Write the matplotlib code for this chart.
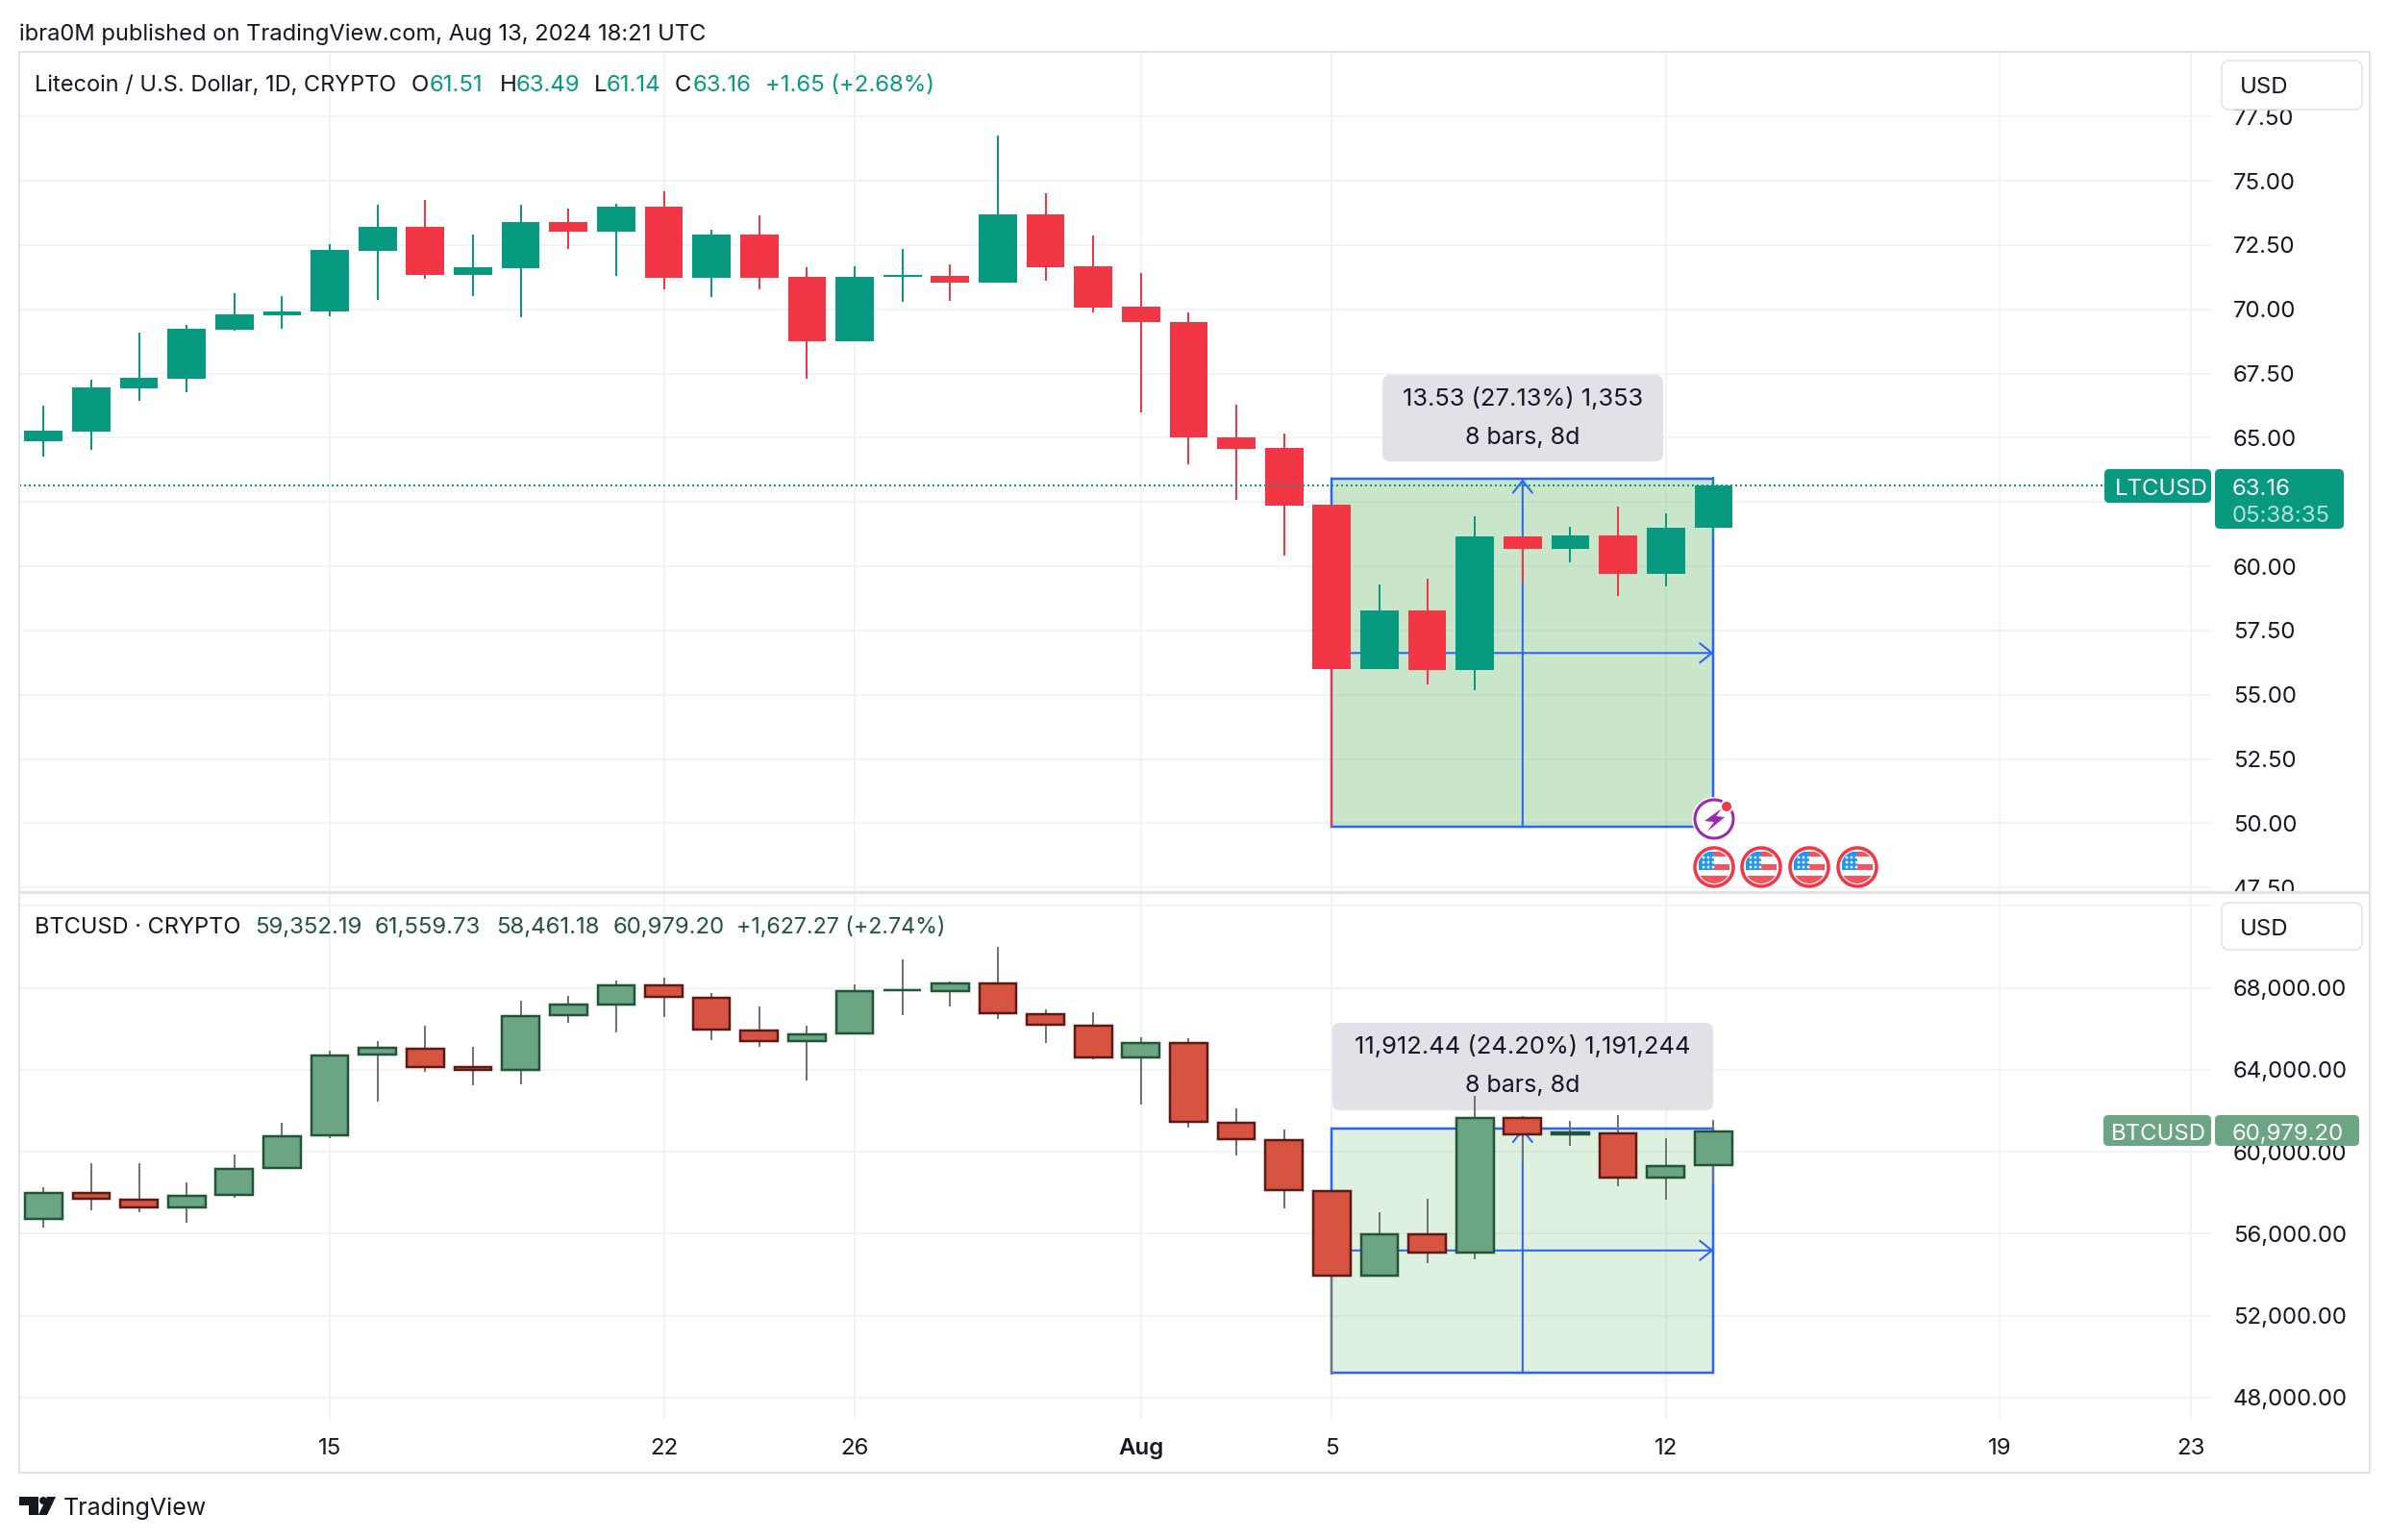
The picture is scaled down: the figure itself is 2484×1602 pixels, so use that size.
import numpy as np
import matplotlib
matplotlib.use('Agg')
import matplotlib.pyplot as plt
from matplotlib.patches import Circle, FancyBboxPatch, Polygon, Rectangle
from matplotlib.transforms import Affine2D

plt.rcParams['font.family'] = ['Inter', 'DejaVu Sans']

W, H = 2484, 1602

# daily bars, Jul 9 -> Aug 13 2024
ltc_open = [64.87, 65.24, 66.92, 67.30, 69.20, 69.77, 69.92, 72.27, 73.21, 71.34, 71.60, 73.39,
            73.02, 73.99, 71.22, 72.91, 71.26, 68.76, 71.26, 71.30, 71.04, 73.69, 71.67, 70.10,
            69.50, 65.00, 64.61, 62.40, 56.01, 58.27, 55.96, 61.15, 60.68, 61.20, 59.72, 61.51]
ltc_high = [66.25, 67.26, 69.09, 69.39, 70.63, 70.51, 72.53, 74.07, 74.25, 72.91, 74.07, 73.92,
            74.10, 74.59, 73.09, 73.65, 71.63, 71.67, 72.35, 71.75, 76.76, 74.51, 72.87, 71.41,
            69.87, 66.30, 65.17, 62.40, 59.29, 59.50, 61.94, 61.15, 61.54, 62.31, 62.06, 63.49]
ltc_low = [64.27, 64.53, 66.44, 66.77, 69.17, 69.24, 69.73, 70.36, 71.19, 70.51, 69.69, 72.35,
           71.30, 70.78, 70.48, 70.78, 67.30, 68.76, 70.29, 70.33, 71.04, 71.11, 69.88, 65.99,
           63.95, 62.60, 60.42, 49.86, 56.01, 55.40, 55.18, 59.38, 60.16, 58.84, 59.23, 61.14]
ltc_close = [65.28, 66.96, 67.34, 69.24, 69.80, 69.92, 72.31, 73.21, 71.34, 71.63, 73.39, 73.02,
             73.99, 71.22, 72.91, 71.22, 68.76, 71.26, 71.34, 71.04, 73.69, 71.63, 70.06, 69.50,
             65.00, 64.55, 62.36, 56.01, 58.27, 55.96, 61.15, 60.68, 61.20, 59.72, 61.50, 63.16]

btc_open = [56713, 58000, 57658, 57296, 57880, 59207, 60797, 64741, 65042, 64117, 63976, 66652,
            67175, 68141, 67517, 65928, 65405, 65767, 67879, 67859, 68241, 66732, 66169, 64600,
            65324, 61421, 60574, 58080, 53948, 55975, 55098, 61666, 60867, 60906, 58742, 59352.19]
btc_high = [58262, 59449, 59449, 58503, 59872, 61421, 64942, 65405, 66149, 65123, 67376, 67618,
            68342, 68503, 67759, 67095, 66149, 68161, 69388, 68302, 70012, 66974, 66813, 65586,
            65545, 62125, 61081, 58119, 57047, 57709, 62738, 61724, 61510, 61783, 60672, 61559.73]
btc_low = [56290, 57135, 57055, 56532, 57759, 59207, 60656, 62447, 63896, 63252, 63292, 66290,
           65827, 66571, 65445, 65123, 63473, 65767, 66672, 67095, 66491, 65304, 64519, 62306,
           61179, 59831, 57242, 49114, 53948, 54552, 54747, 59580, 60282, 58313, 57670, 58461.18]
btc_close = [58000, 57699, 57296, 57860, 59167, 60757, 64700, 65062, 64137, 63976, 66632, 67175,
             68141, 67557, 65968, 65405, 65747, 67859, 67899, 68241, 66753, 66189, 64600, 65324,
             61461, 60616, 58119, 53948, 55975, 55098, 61666, 60847, 60925, 58742, 59307, 60979.20]

ltc_ticks = [47.5, 50, 52.5, 55, 57.5, 60, 62.5, 65, 67.5, 70, 72.5, 75, 77.5]
ltc_ticklabels = ['47.50', '50.00', '52.50', '55.00', '57.50', '60.00', '', '65.00', '67.50',
                  '70.00', '72.50', '75.00', '77.50']
btc_ticks = [48000, 52000, 56000, 60000, 64000, 68000, 72000]
btc_ticklabels = ['48,000.00', '52,000.00', '56,000.00', '60,000.00', '64,000.00', '68,000.00', '']
day_ticks = [6, 13, 17, 23, 27, 34, 41, 45]
day_labels = ['15', '22', '26', 'Aug', '5', '12', '19', '23']

ltc_measure = (27, 35, 49.86, 63.39)
btc_measure = (27, 35, 49225, 61137)

TEXT = '#131722'
GRID = '#f2f3f6'
BORDER = '#e0e3eb'
BLUE = '#2962ff'
GREEN = '#089981'
RED = '#f23645'
BTC_UP = '#6ba583'
BTC_DOWN = '#d75442'
BTC_UP_EDGE = '#225437'
BTC_DOWN_EDGE = '#5b1a13'
BTC_WICK = '#737375'

px = Affine2D().scale(1, -1).translate(0, H)  # image pixels, y going down

fig = plt.figure(figsize=(W / 100, H / 100), dpi=100, facecolor='white')


def pt(pixels):
    return pixels * 0.72


def pane(left, top, right, bottom, ylim):
    ax = fig.add_axes([left / W, 1 - bottom / H, (right - left) / W, (bottom - top) / H])
    ax.set_xlim(-0.51, 45.43)
    ax.set_ylim(*ylim)
    for s in ax.spines.values():
        s.set_visible(False)
    ax.set_axisbelow(True)
    ax.grid(True, color=GRID, lw=pt(2))
    ax.set_xticks(day_ticks)
    ax.yaxis.tick_right()
    ax.tick_params(length=0, labelsize=pt(24), colors=TEXT)
    ax.tick_params(axis='y', pad=pt(23))
    return ax


def candles(ax, o, h, l, c, up, down, edge_up=None, edge_down=None, wick_up=None, wick_down=None, lw=0, width=0.8):
    o, h, l, c = map(np.array, (o, h, l, c))
    days = np.arange(len(o))
    rising = c >= o
    ax.vlines(days, l, h, colors=[(wick_up or up) if r else (wick_down or down) for r in rising],
              lw=pt(2), zorder=3)
    ax.bar(days, np.abs(c - o), bottom=np.minimum(o, c), width=width,
           color=[up if r else down for r in rising],
           edgecolor=[(edge_up or up) if r else (edge_down or down) for r in rising],
           linewidth=lw, zorder=4)


def measure(ax, x0, x1, y0, y1, alpha):
    ax.add_patch(Rectangle((x0, y0), x1 - x0, y1 - y0, facecolor='#4caf50', alpha=alpha, lw=0, zorder=1.5))
    ax.add_patch(Rectangle((x0, y0), x1 - x0, y1 - y0, fill=False, edgecolor=BLUE, lw=pt(2.5), zorder=2))
    xm, ym = (x0 + x1) / 2, (y0 + y1) / 2
    style = dict(arrowstyle='->,head_length=1.0,head_width=0.8', color=BLUE, lw=pt(2),
                 shrinkA=0, shrinkB=0, mutation_scale=9)
    ax.annotate('', xy=(xm, y1), xytext=(xm, y0), arrowprops=style, zorder=2)
    ax.annotate('', xy=(x1, ym), xytext=(x0, ym), arrowprops=style, zorder=2)


def label(x, y, s, color=TEXT, size=24, ha='left', weight='normal', alpha=1):
    fig.text(x, y + 4, s, transform=px, color=color, fontsize=pt(size), ha=ha, va='center',
             fontweight=weight, alpha=alpha, zorder=8)


def box(x0, y0, x1, y1, color, edge='none', radius=5, zorder=6, target=None, alpha=1):
    b = FancyBboxPatch((x0, y0), x1 - x0, y1 - y0, boxstyle='round,pad=0,rounding_size=%d' % radius,
                       facecolor=color, edgecolor=edge, lw=pt(1.5), transform=px, zorder=zorder, alpha=alpha)
    if target is None:
        fig.add_artist(b)
    else:
        b.set_clip_on(False)
        target.add_patch(b)
        b.set_transform(px)


def flag(cx, cy):
    fig.add_artist(Circle((cx, cy), 23, facecolor='white', edgecolor='none', transform=px, zorder=6))
    fig.add_artist(Circle((cx, cy), 20, facecolor='white', edgecolor=RED, lw=pt(3.5), transform=px, zorder=6.1))
    inner = Circle((cx, cy), 17, transform=px)
    parts = [((cx, cy - 16), 16, 5, '#f7525f'), ((cx, cy - 3), 16, 6, '#f7525f'),
             ((cx - 16, cy + 9), 32, 9, '#f7525f'), ((cx - 16, cy - 16), 16, 19, '#2196f3')]
    for xy, w, h, col in parts:
        r = Rectangle(xy, w, h, facecolor=col, edgecolor='none', transform=px, zorder=6.2)
        r.set_clip_path(inner)
        fig.add_artist(r)
    for dy in (-10, -5, 0):
        for dx in (-11, -6, -1):
            fig.add_artist(Circle((cx + dx, cy + dy), 1.4, facecolor='white', edgecolor='none', transform=px, zorder=6.3))


# panes
ax1 = pane(20, 55, 2300, 928, (47.32, 79.98))
ax2 = pane(20, 930, 2300, 1476, (46957, 72586))

ax1.set_yticks(ltc_ticks, ltc_ticklabels)
ax1.set_xticklabels([])
ax2.set_yticks(btc_ticks, btc_ticklabels)
ax2.set_xticks(day_ticks, day_labels)
ax2.tick_params(axis='x', pad=pt(20))
for t in ax2.get_xticklabels():
    if t.get_text() == 'Aug':
        t.set_fontweight('semibold')

measure(ax1, *ltc_measure, alpha=0.3)
measure(ax2, *btc_measure, alpha=0.18)
box(1438, 390, 1730, 480, '#dfe1e6', target=ax1, zorder=2.5, radius=8, alpha=0.95)
box(1386, 1064, 1782, 1155, '#dfe1e6', target=ax2, zorder=2.5, radius=8, alpha=0.95)

candles(ax1, ltc_open, ltc_high, ltc_low, ltc_close, GREEN, RED)
candles(ax2, btc_open, btc_high, btc_low, btc_close, BTC_UP, BTC_DOWN, BTC_UP_EDGE, BTC_DOWN_EDGE,
        BTC_WICK, BTC_WICK, lw=pt(2.5), width=0.78)
ax1.axhline(ltc_close[-1], color=GREEN, lw=pt(2), ls=(0, (1, 1.5)), zorder=5)

label(1584, 411, '13.53 (27.13%) 1,353', ha='center', size=25.5)
label(1584, 451, '8 bars, 8d', ha='center', size=25)
label(1584, 1085, '11,912.44 (24.20%) 1,191,244', ha='center', size=25.5)
label(1584, 1126, '8 bars, 8d', ha='center', size=25)

# frame and pane divider
fig.add_artist(Rectangle((20, 54), 2445, 1478, fill=False, edgecolor=BORDER, lw=pt(2), transform=px, zorder=5))
fig.add_artist(Rectangle((2301, 928), 163, 10, facecolor='white', edgecolor='none', transform=px, zorder=5))
fig.add_artist(Rectangle((20, 927), 2445, 3, facecolor=BORDER, edgecolor='none', transform=px, zorder=5.5))

# header + legends
label(20, 32, 'ibra0M published on TradingView.com, Aug 13, 2024 18:21 UTC', size=23.7)
label(36, 85, 'Litecoin / U.S. Dollar, 1D, CRYPTO', size=23.5)
for x, s, col in [(428, 'O', TEXT), (447, '61.51', GREEN), (520, 'H', TEXT), (537, '63.49', GREEN),
                  (618, 'L', TEXT), (631, '61.14', GREEN), (702, 'C', TEXT), (721, '63.16', GREEN),
                  (796, '+1.65 (+2.68%)', GREEN)]:
    label(x, 85, s, col)
label(36, 961, 'BTCUSD · CRYPTO', size=23.6)
for x, s, size in [(265, '59,352.19', 24), (390, '61,559.73', 24), (516, '58,461.18', 24), (638, '60,979.20', 24),
                   (766, '+1,627.27 (+2.74%)', 23.2)]:
    label(x, 961, s, BTC_UP_EDGE, size=size)

# USD buttons
for y0, y1, yt in [(63, 114, 87), (939, 988, 963)]:
    box(2311, y0, 2457, y1, 'white', edge=BORDER, radius=8)
    label(2330, yt, 'USD')

# price tags
box(2189, 488, 2300, 523, GREEN)
box(2304, 488, 2438, 550, GREEN)
label(2200, 505, 'LTCUSD', 'white')
label(2322, 505, '63.16', 'white')
label(2322, 533, '05:38:35', 'white', alpha=0.7)
box(2188, 1160, 2300, 1192, BTC_UP)
box(2304, 1160, 2454, 1192, BTC_UP)
label(2196, 1176, 'BTCUSD', 'white')
label(2322, 1176, '60,979.20', 'white')

# event icons
fig.add_artist(Circle((1783, 852), 23, facecolor='white', edgecolor='none', transform=px, zorder=6))
fig.add_artist(Circle((1783, 852), 20, facecolor='white', edgecolor='#9c27b0', lw=pt(3), transform=px, zorder=6.1))
fig.add_artist(Polygon([(1791, 841), (1773, 854), (1783, 855), (1776, 865), (1794, 850), (1785, 849)],
                       facecolor='#9c27b0', edgecolor='none', transform=px, zorder=6.2))
fig.add_artist(Circle((1796, 839), 7, facecolor='white', edgecolor='none', transform=px, zorder=6.3))
fig.add_artist(Circle((1796, 839), 5, facecolor=RED, edgecolor='none', transform=px, zorder=6.4))
for cx in (1783, 1832, 1882, 1932):
    flag(cx, 902)

# TradingView logo
fig.add_artist(Polygon([(20, 1557), (40, 1557), (40, 1576), (30, 1576), (30, 1566), (20, 1566)],
                       facecolor=TEXT, edgecolor='none', transform=px, zorder=6))
fig.add_artist(Circle((45, 1561), 4, facecolor=TEXT, edgecolor='none', transform=px, zorder=6))
fig.add_artist(Polygon([(49, 1557), (58, 1557), (49, 1576), (40, 1576)], facecolor=TEXT, edgecolor='none', transform=px, zorder=6))
label(66, 1565, 'TradingView', size=25)

fig.savefig('out.png', dpi=100)
